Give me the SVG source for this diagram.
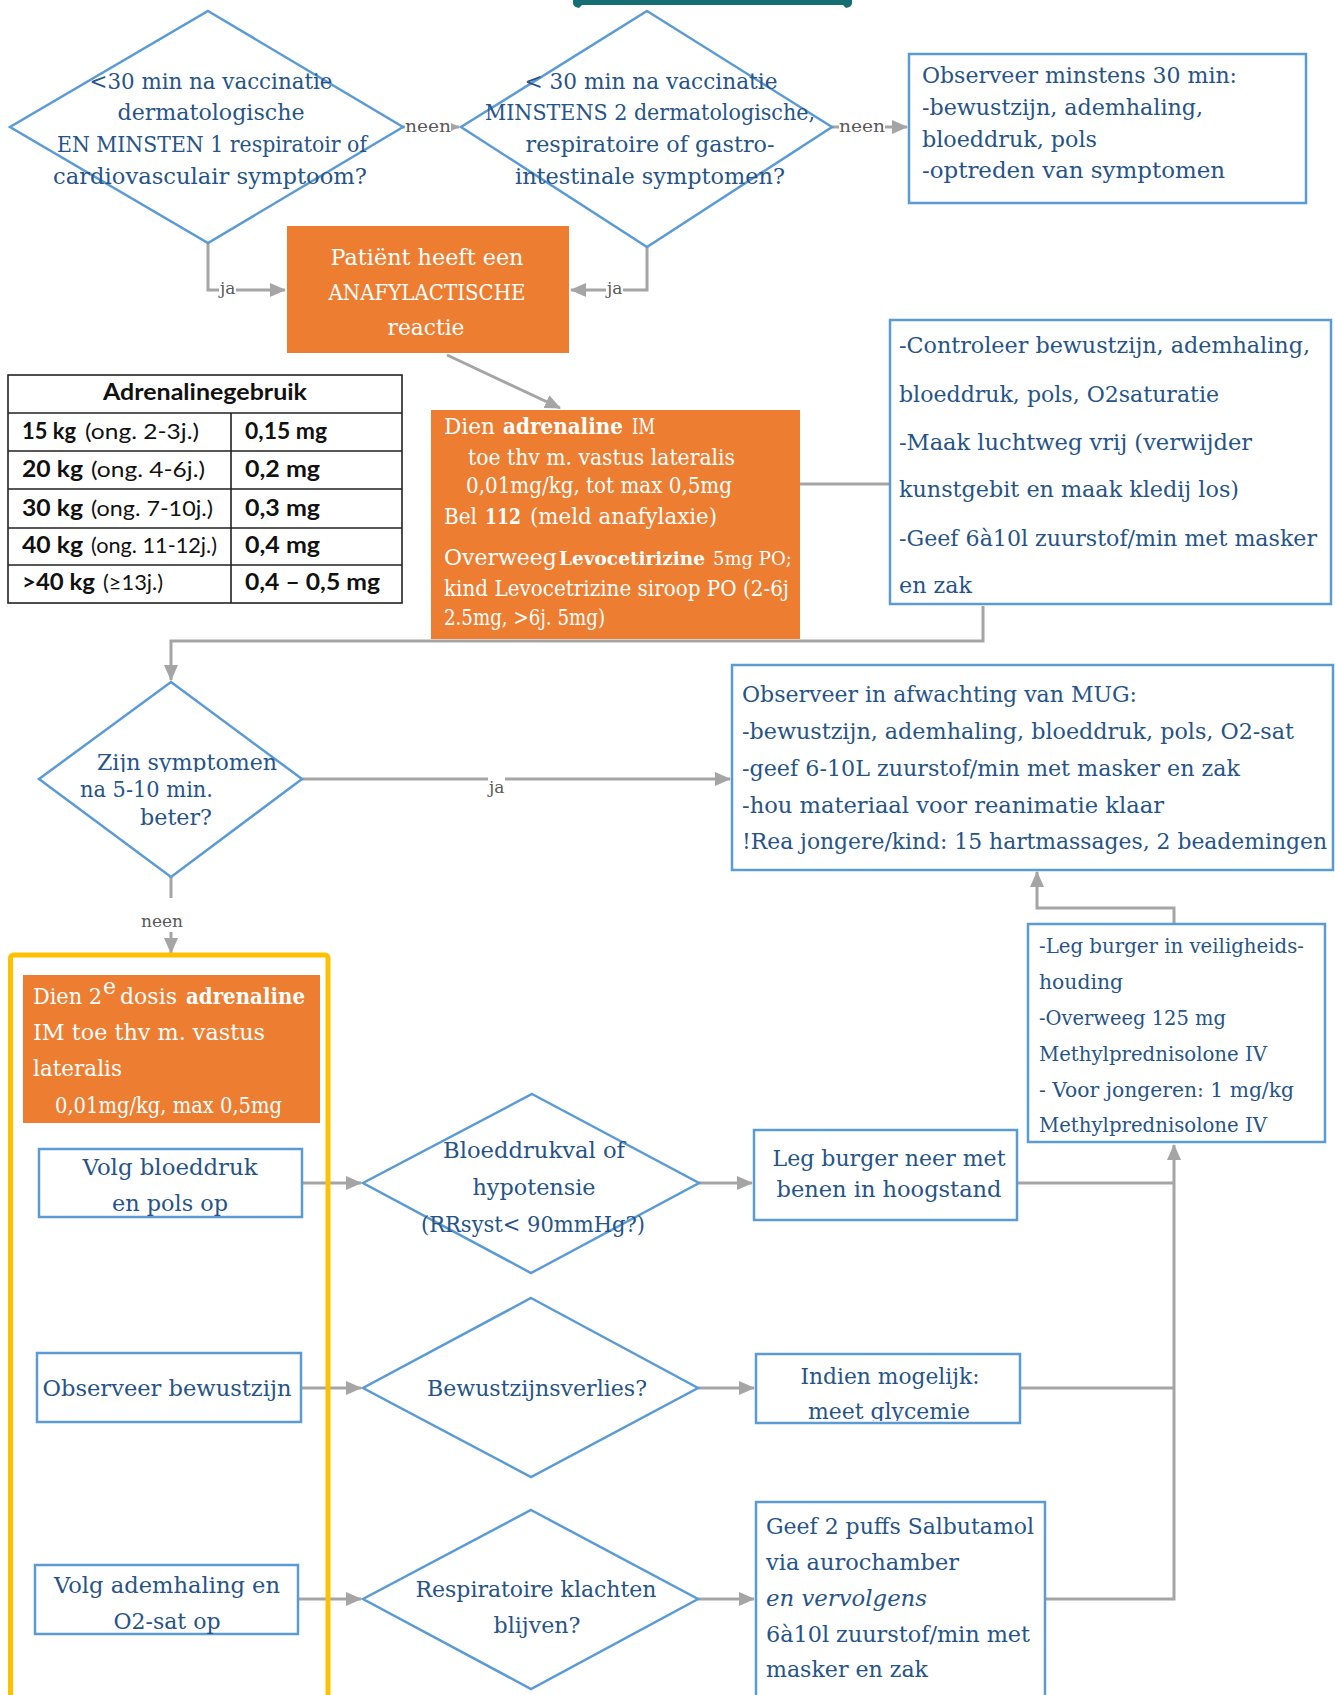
<svg xmlns="http://www.w3.org/2000/svg" width="1335" height="1695" viewBox="0 0 1335 1695">
<style>
.t{font-family:"DejaVu Serif","Liberation Serif",serif;fill:#265487;font-size:22px}
.s{font-size:19.5px}
.w{font-family:"DejaVu Serif","Liberation Serif",serif;fill:#ffffff;font-size:22px}
.m{text-anchor:middle}
.b{font-weight:bold}
.lbl{font-family:"DejaVu Serif","Liberation Serif",serif;fill:#595959;font-size:17px}
.tb{font-family:Lato,"Noto Sans",sans-serif;fill:#111111;font-size:22px}
.box{fill:#ffffff;stroke:#5B9BD5;stroke-width:2.5}
.dia{fill:#ffffff;stroke:#5B9BD5;stroke-width:2.5}
.org{fill:#ED7D31}
.con{fill:none;stroke:#A5A5A5;stroke-width:3}
.bg{fill:#ffffff}
.grid{fill:none;stroke:#222222;stroke-width:1.6}
</style>
<defs>
<marker id="ar" markerUnits="userSpaceOnUse" markerWidth="16" markerHeight="14" refX="15" refY="7" orient="auto">
<path d="M0,0 L16,7 L0,14 Z" fill="#A5A5A5"/>
</marker>
<clipPath id="clipZijn"><rect x="40" y="680" width="260" height="92"/></clipPath>
<clipPath id="clipMeet"><rect x="756" y="1354" width="264" height="67"/></clipPath>
</defs>

<path d="M573 0 H852 V3 Q852 7 846 8 L843 5 H582 L579 8 Q573 7 573 3 Z" fill="#146E72"/>

<g id="connectors">
<path class="con" d="M403,127 H459" marker-end="url(#ar)"/>
<path class="con" d="M832,127 H907" marker-end="url(#ar)"/>
<path class="con" d="M208,243 V290 H285" marker-end="url(#ar)"/>
<path class="con" d="M647,247 V290 H571" marker-end="url(#ar)"/>
<path class="con" d="M447,355 L560,408" marker-end="url(#ar)"/>
<path class="con" d="M800,484 H890"/>
<path class="con" d="M983,606 V641 H171 V680" marker-end="url(#ar)"/>
<path class="con" d="M302,779 H730" marker-end="url(#ar)"/>
<path class="con" d="M171,877 V953" marker-end="url(#ar)"/>
<path class="con" d="M1174,924 V908 H1037 V872" marker-end="url(#ar)"/>
<path class="con" d="M302,1183 H361" marker-end="url(#ar)"/>
<path class="con" d="M699,1183 H752" marker-end="url(#ar)"/>
<path class="con" d="M1017,1183 H1174"/>
<path class="con" d="M301,1388 H361" marker-end="url(#ar)"/>
<path class="con" d="M698,1388 H754" marker-end="url(#ar)"/>
<path class="con" d="M1020,1388 H1174"/>
<path class="con" d="M298,1599 H361" marker-end="url(#ar)"/>
<path class="con" d="M698,1599 H754" marker-end="url(#ar)"/>
<path class="con" d="M1045,1599 H1174 V1145" marker-end="url(#ar)"/>
<rect class="bg" x="405" y="115" width="46" height="22"/>
<text class="lbl" x="405" y="132" textLength="46" lengthAdjust="spacingAndGlyphs">neen</text>
<rect class="bg" x="839" y="115" width="46" height="22"/>
<text class="lbl" x="839" y="132" textLength="46" lengthAdjust="spacingAndGlyphs">neen</text>
<rect class="bg" x="219" y="280" width="17" height="22"/>
<text class="lbl" x="220" y="294">ja</text>
<rect class="bg" x="606" y="280" width="17" height="22"/>
<text class="lbl" x="607" y="294">ja</text>
<rect class="bg" x="488" y="775" width="17" height="22"/>
<text class="lbl" x="489" y="793">ja</text>
<rect class="bg" x="138" y="898" width="48" height="34"/>
<text class="lbl" x="162" y="927" text-anchor="middle">neen</text>
</g>

<g id="n-q1">
<polygon class="dia" points="208,11 403,127 208,243 10,127"/>
<text class="t m" x="211" y="89" textLength="243" lengthAdjust="spacingAndGlyphs">&lt;30 min na vaccinatie</text>
<text class="t m" x="211" y="120" textLength="187" lengthAdjust="spacingAndGlyphs">dermatologische</text>
<text class="t m" x="212" y="152" textLength="310" lengthAdjust="spacingAndGlyphs">EN MINSTEN 1 respiratoir of</text>
<text class="t m" x="210" y="184" textLength="314" lengthAdjust="spacingAndGlyphs">cardiovasculair symptoom?</text>
</g>

<g id="n-q2">
<polygon class="dia" points="647,11 832,127 647,247 461,127"/>
<text class="t m" x="651" y="89" textLength="253" lengthAdjust="spacingAndGlyphs">&lt; 30 min na vaccinatie</text>
<text class="t m" x="650" y="120" textLength="330" lengthAdjust="spacingAndGlyphs">MINSTENS 2 dermatologische,</text>
<text class="t m" x="650" y="152" textLength="249" lengthAdjust="spacingAndGlyphs">respiratoire of gastro-</text>
<text class="t m" x="650" y="184" textLength="270" lengthAdjust="spacingAndGlyphs">intestinale symptomen?</text>
</g>

<g id="n-observe30">
<rect class="box" x="909" y="54" width="397" height="149"/>
<text class="t" x="922" y="83" textLength="315" lengthAdjust="spacingAndGlyphs">Observeer minstens 30 min:</text>
<text class="t" x="922" y="115" textLength="281" lengthAdjust="spacingAndGlyphs">-bewustzijn, ademhaling,</text>
<text class="t" x="922" y="147" textLength="175" lengthAdjust="spacingAndGlyphs">bloeddruk, pols</text>
<text class="t" x="922" y="178" textLength="303" lengthAdjust="spacingAndGlyphs">-optreden van symptomen</text>
</g>

<g id="n-anafylactisch">
<rect class="org" x="287" y="226" width="282" height="127"/>
<text class="w m" x="427" y="265" textLength="193" lengthAdjust="spacingAndGlyphs">Patiënt heeft een</text>
<text class="w m" x="427" y="300" textLength="197" lengthAdjust="spacingAndGlyphs">ANAFYLACTISCHE</text>
<text class="w m" x="426" y="335" textLength="77" lengthAdjust="spacingAndGlyphs">reactie</text>
</g>

<g id="n-table">
<rect class="grid" x="8" y="375" width="394" height="228"/>
<path class="grid" d="M8,413 H402 M8,451 H402 M8,489 H402 M8,528 H402 M8,565 H402 M231,413 V603"/>
<text class="tb b" x="205" y="400" text-anchor="middle" textLength="204" lengthAdjust="spacingAndGlyphs">Adrenalinegebruik</text>
<text class="tb b" x="22" y="439" textLength="54" lengthAdjust="spacingAndGlyphs">15 kg</text>
<text class="tb" x="85" y="439" textLength="114" lengthAdjust="spacingAndGlyphs">(ong. 2-3j.)</text>
<text class="tb b" x="245" y="439" textLength="82" lengthAdjust="spacingAndGlyphs">0,15 mg</text>
<text class="tb b" x="22" y="477" textLength="61" lengthAdjust="spacingAndGlyphs">20 kg</text>
<text class="tb" x="91" y="477" textLength="114" lengthAdjust="spacingAndGlyphs">(ong. 4-6j.)</text>
<text class="tb b" x="245" y="477" textLength="75" lengthAdjust="spacingAndGlyphs">0,2 mg</text>
<text class="tb b" x="22" y="516" textLength="61" lengthAdjust="spacingAndGlyphs">30 kg</text>
<text class="tb" x="91" y="516" textLength="122" lengthAdjust="spacingAndGlyphs">(ong. 7-10j.)</text>
<text class="tb b" x="245" y="516" textLength="75" lengthAdjust="spacingAndGlyphs">0,3 mg</text>
<text class="tb b" x="22" y="553" textLength="61" lengthAdjust="spacingAndGlyphs">40 kg</text>
<text class="tb" x="91" y="553" textLength="126" lengthAdjust="spacingAndGlyphs">(ong. 11-12j.)</text>
<text class="tb b" x="245" y="553" textLength="75" lengthAdjust="spacingAndGlyphs">0,4 mg</text>
<text class="tb b" x="22" y="590" textLength="73" lengthAdjust="spacingAndGlyphs">&gt;40 kg</text>
<text class="tb" x="103" y="590" textLength="60" lengthAdjust="spacingAndGlyphs">(≥13j.)</text>
<text class="tb b" x="245" y="590" textLength="135" lengthAdjust="spacingAndGlyphs">0,4 – 0,5 mg</text>
</g>

<g id="n-adrenaline1">
<rect class="org" x="431" y="410" width="369" height="229"/>
<text class="w" x="444" y="434" textLength="51" lengthAdjust="spacingAndGlyphs">Dien</text>
<text class="w b" x="503" y="434" textLength="120" lengthAdjust="spacingAndGlyphs">adrenaline</text>
<text class="w" x="632" y="434" textLength="23" lengthAdjust="spacingAndGlyphs">IM</text>
<text class="w s" x="468" y="465" textLength="267" lengthAdjust="spacingAndGlyphs">toe thv m. vastus lateralis</text>
<text class="w s" x="466" y="493" textLength="266" lengthAdjust="spacingAndGlyphs">0,01mg/kg, tot max 0,5mg</text>
<text class="w" x="444" y="524" textLength="33" lengthAdjust="spacingAndGlyphs">Bel</text>
<text class="w b" x="485" y="524" font-size="19.5" textLength="36" lengthAdjust="spacingAndGlyphs">112</text>
<text class="w" x="530" y="524" textLength="187" lengthAdjust="spacingAndGlyphs">(meld anafylaxie)</text>
<text class="w" y="565" font-size="19.5"><tspan x="444">Overweeg</tspan><tspan x="559" font-weight="bold" font-size="18.5">Levocetirizine</tspan><tspan x="713" font-size="18">5mg PO;</tspan></text>
<text class="w s" x="444" y="596" textLength="345" lengthAdjust="spacingAndGlyphs">kind Levocetrizine siroop PO (2-6j</text>
<text class="w s" x="444" y="625" textLength="161" lengthAdjust="spacingAndGlyphs">2.5mg, &gt;6j. 5mg)</text>
</g>

<g id="n-controleer">
<rect class="box" x="890" y="320" width="441" height="284"/>
<text class="t" x="899" y="353" textLength="411" lengthAdjust="spacingAndGlyphs">-Controleer bewustzijn, ademhaling,</text>
<text class="t" x="899" y="402" textLength="320" lengthAdjust="spacingAndGlyphs">bloeddruk, pols, O2saturatie</text>
<text class="t" x="899" y="450" textLength="353" lengthAdjust="spacingAndGlyphs">-Maak luchtweg vrij (verwijder</text>
<text class="t" x="899" y="497" textLength="340" lengthAdjust="spacingAndGlyphs">kunstgebit en maak kledij los)</text>
<text class="t" x="899" y="546" textLength="418" lengthAdjust="spacingAndGlyphs">-Geef 6à10l zuurstof/min met masker</text>
<text class="t" x="899" y="593" textLength="73" lengthAdjust="spacingAndGlyphs">en zak</text>
</g>

<g id="n-q3">
<polygon class="dia" points="171,682 302,779 171,877 39,779"/>
<text class="t" x="97" y="770" textLength="180" lengthAdjust="spacingAndGlyphs" clip-path="url(#clipZijn)">Zijn symptomen</text>
<text class="t" x="80" y="797" textLength="133" lengthAdjust="spacingAndGlyphs">na 5-10 min.</text>
<text class="t" x="140" y="825" textLength="72" lengthAdjust="spacingAndGlyphs">beter?</text>
</g>

<g id="n-mug">
<rect class="box" x="732" y="665" width="601" height="205"/>
<text class="t" x="742" y="702" textLength="395" lengthAdjust="spacingAndGlyphs">Observeer in afwachting van MUG:</text>
<text class="t" x="742" y="739" textLength="552" lengthAdjust="spacingAndGlyphs">-bewustzijn, ademhaling, bloeddruk, pols, O2-sat</text>
<text class="t" x="742" y="776" textLength="498" lengthAdjust="spacingAndGlyphs">-geef 6-10L zuurstof/min met masker en zak</text>
<text class="t" x="742" y="813" textLength="422" lengthAdjust="spacingAndGlyphs">-hou materiaal voor reanimatie klaar</text>
<text class="t" x="742" y="849" textLength="585" lengthAdjust="spacingAndGlyphs">!Rea jongere/kind: 15 hartmassages, 2 beademingen</text>
</g>

<g id="n-veiligheid">
<rect class="box" x="1028" y="924" width="297" height="218"/>
<text class="t s" x="1039" y="953" textLength="265" lengthAdjust="spacingAndGlyphs">-Leg burger in veiligheids-</text>
<text class="t s" x="1039" y="989" textLength="84" lengthAdjust="spacingAndGlyphs">houding</text>
<text class="t s" x="1039" y="1025" textLength="187" lengthAdjust="spacingAndGlyphs">-Overweeg 125 mg</text>
<text class="t s" x="1039" y="1061" textLength="228" lengthAdjust="spacingAndGlyphs">Methylprednisolone IV</text>
<text class="t s" x="1039" y="1097" textLength="255" lengthAdjust="spacingAndGlyphs">- Voor jongeren: 1 mg/kg</text>
<text class="t s" x="1039" y="1132" textLength="228" lengthAdjust="spacingAndGlyphs">Methylprednisolone IV</text>
</g>

<g id="n-frame">
<rect x="10.5" y="955" width="317.5" height="800" rx="3" fill="none" stroke="#FFC000" stroke-width="5"/>
</g>

<g id="n-adrenaline2">
<rect class="org" x="23" y="975" width="297" height="148"/>
<text class="w" x="33" y="1004" textLength="69" lengthAdjust="spacingAndGlyphs">Dien 2</text>
<text class="w" x="103" y="994" font-size="11">e</text>
<text class="w" x="120" y="1004" textLength="57" lengthAdjust="spacingAndGlyphs">dosis</text>
<text class="w b" x="186" y="1004" textLength="119" lengthAdjust="spacingAndGlyphs">adrenaline</text>
<text class="w" x="33" y="1040" textLength="232" lengthAdjust="spacingAndGlyphs">IM toe thv m. vastus</text>
<text class="w" x="33" y="1076" textLength="89" lengthAdjust="spacingAndGlyphs">lateralis</text>
<text class="w" x="55" y="1113" textLength="227" lengthAdjust="spacingAndGlyphs">0,01mg/kg, max 0,5mg</text>
</g>

<g id="n-volgbloeddruk">
<rect class="box" x="39" y="1149" width="263" height="68"/>
<text class="t m" x="170" y="1175" textLength="175" lengthAdjust="spacingAndGlyphs">Volg bloeddruk</text>
<text class="t m" x="170" y="1211" textLength="116" lengthAdjust="spacingAndGlyphs">en pols op</text>
</g>

<g id="n-q-bloeddruk">
<polygon class="dia" points="532,1094 699,1183 531,1273 363,1183"/>
<text class="t m" x="534" y="1158" textLength="182" lengthAdjust="spacingAndGlyphs">Bloeddrukval of</text>
<text class="t m" x="534" y="1195" textLength="123" lengthAdjust="spacingAndGlyphs">hypotensie</text>
<text class="t m" x="533" y="1232" textLength="224" lengthAdjust="spacingAndGlyphs">(RRsyst&lt; 90mmHg?)</text>
</g>

<g id="n-legneer">
<rect class="box" x="754" y="1130" width="263" height="90"/>
<text class="t m" x="889" y="1166" textLength="233" lengthAdjust="spacingAndGlyphs">Leg burger neer met</text>
<text class="t m" x="889" y="1197" textLength="225" lengthAdjust="spacingAndGlyphs">benen in hoogstand</text>
</g>

<g id="n-observeerbewust">
<rect class="box" x="37" y="1353" width="264" height="69"/>
<text class="t m" x="167" y="1396" textLength="249" lengthAdjust="spacingAndGlyphs">Observeer bewustzijn</text>
</g>

<g id="n-q-bewust">
<polygon class="dia" points="531,1298 698,1388 531,1477 363,1388"/>
<text class="t m" x="537" y="1396" textLength="220" lengthAdjust="spacingAndGlyphs">Bewustzijnsverlies?</text>
</g>

<g id="n-glycemie">
<rect class="box" x="756" y="1354" width="264" height="69"/>
<text class="t m" x="890" y="1384" textLength="179" lengthAdjust="spacingAndGlyphs">Indien mogelijk:</text>
<text class="t m" x="889" y="1419" textLength="162" lengthAdjust="spacingAndGlyphs" clip-path="url(#clipMeet)">meet glycemie</text>
</g>

<g id="n-volgadem">
<rect class="box" x="35" y="1565" width="263" height="69"/>
<text class="t m" x="167" y="1593" textLength="226" lengthAdjust="spacingAndGlyphs">Volg ademhaling en</text>
<text class="t m" x="167" y="1629" textLength="107" lengthAdjust="spacingAndGlyphs">O2-sat op</text>
</g>

<g id="n-q-resp">
<polygon class="dia" points="531,1510 698,1599 531,1689 363,1599"/>
<text class="t m" x="536" y="1597" textLength="241" lengthAdjust="spacingAndGlyphs">Respiratoire klachten</text>
<text class="t m" x="537" y="1633" textLength="87" lengthAdjust="spacingAndGlyphs">blijven?</text>
</g>

<g id="n-salbutamol">
<rect class="box" x="756" y="1502" width="289" height="230"/>
<text class="t" x="766" y="1534" textLength="268" lengthAdjust="spacingAndGlyphs">Geef 2 puffs Salbutamol</text>
<text class="t" x="766" y="1570" textLength="193" lengthAdjust="spacingAndGlyphs">via aurochamber</text>
<text class="t" x="766" y="1606" font-style="italic" textLength="161" lengthAdjust="spacingAndGlyphs">en vervolgens</text>
<text class="t" x="766" y="1642" textLength="264" lengthAdjust="spacingAndGlyphs">6à10l zuurstof/min met</text>
<text class="t" x="766" y="1677" textLength="162" lengthAdjust="spacingAndGlyphs">masker en zak</text>
</g>
</svg>
